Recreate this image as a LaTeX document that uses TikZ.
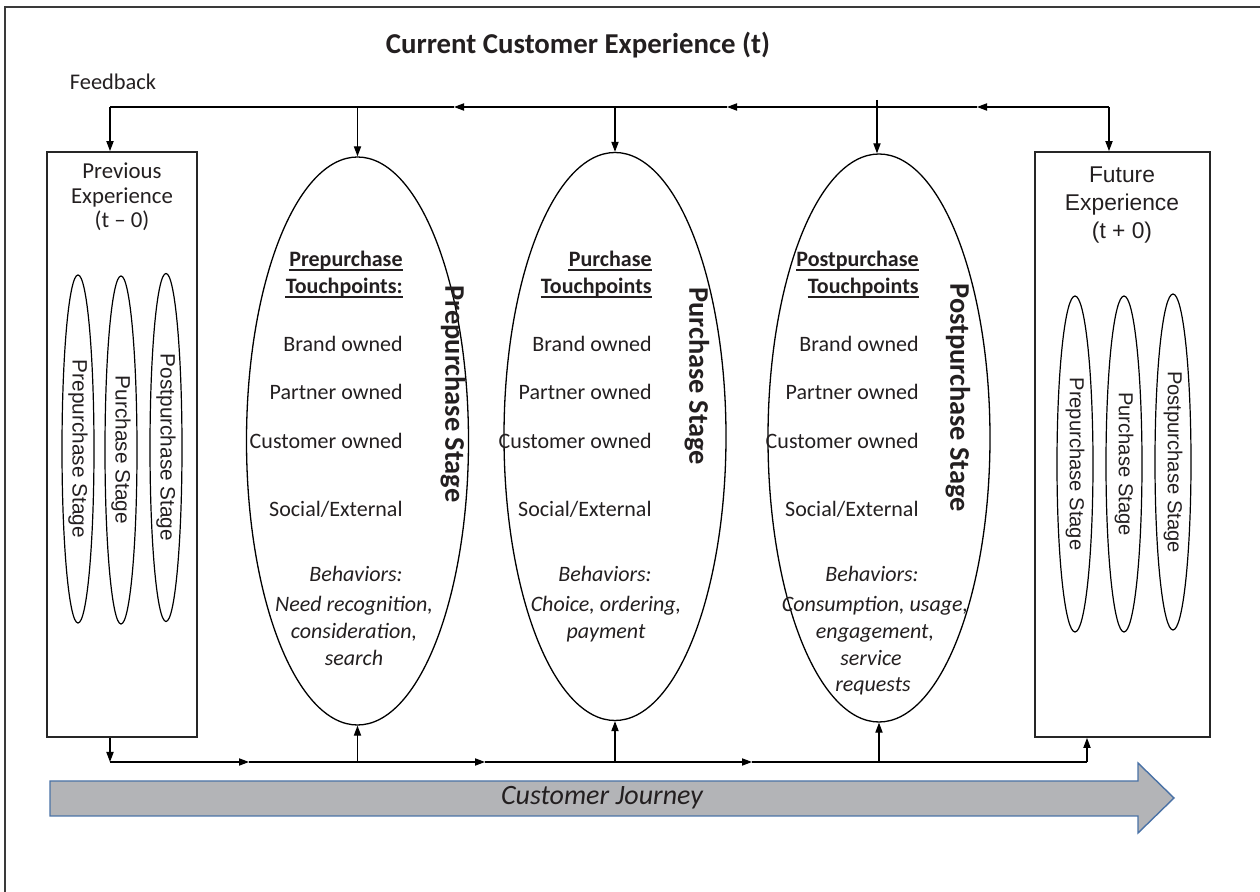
\documentclass[tikz,border=0pt]{standalone}
\usepackage{fontspec}
\setmainfont{Carlito}
\newfontfamily\arialf{Liberation Sans}
\usetikzlibrary{shapes.geometric,arrows.meta}
\definecolor{txt}{HTML}{231F20}
\definecolor{jfill}{HTML}{B3B4B7}
\definecolor{jdraw}{HTML}{4A72A6}
\definecolor{frame}{HTML}{3A3A3A}
\begin{document}
\begin{tikzpicture}[x=0.5pt,y=-0.5pt,
  every node/.style={inner sep=0pt, text=txt},
  line/.style={draw=black, line width=0.6pt},
  arr/.style={line, -{Triangle[length=5pt,width=3.6pt]}},
  bigell/.style={ellipse, draw=black, line width=0.65pt, minimum width=111pt, minimum height=284pt},
  smallL/.style={ellipse, draw=black, line width=0.6pt, minimum width=16pt, minimum height=174pt},
  smallR/.style={ellipse, draw=black, line width=0.6pt, minimum width=18pt, minimum height=168pt},
  expbox/.style={rectangle, draw=black!85, line width=0.9pt},
  tp/.style={font=\fontsize{11}{13}\selectfont, anchor=base east},
  tph/.style={font=\fontsize{11}{13}\selectfont\bfseries, anchor=base east},
  uline/.style={draw=txt, line width=0.8pt},
  beh/.style={font=\fontsize{11}{13}\selectfont\itshape, anchor=base},
  stagelbl/.style={font=\fontsize{14.2}{16}\selectfont\bfseries, rotate=-90, anchor=west},
  smlbl/.style={font=\arialf\fontsize{10.4}{12}\selectfont, rotate=-90}
]
\useasboundingbox (0,0) rectangle (1260,892);
% outer frame
\draw[draw=frame, line width=1pt] (1275,7) -- (5,7) -- (5,900);

% title and feedback
\node[font=\fontsize{14.4}{17}\selectfont\bfseries] (title) at (578,45) {Current Customer Experience (t)};
\node[font=\fontsize{11.2}{13}\selectfont] (fbtext) at (113,82) {Feedback};

% experience boxes
\node[expbox, minimum width=75pt, minimum height=292.5pt] (prev) at (122,444.5) {};
\node[expbox, minimum width=87.5pt, minimum height=292.5pt] (fut) at (1122.5,444.5) {};
\node[font=\fontsize{11.4}{12.3}\selectfont, align=center] (prevtxt) at (122,197) {Previous\\Experience\\(t -- 0)};
\node[font=\arialf\fontsize{11.4}{14}\selectfont, align=center] (futtxt) at (1122,205) {Future\\Experience\\(t + 0)};

% small ellipses in previous box
\node[smallL] (pl1) at (78,449) {};
\node[smallL] (pl2) at (121,450) {};
\node[smallL] (pl3) at (166,447.5) {};
\node[smlbl] (pt1) at (pl1.center) {Prepurchase Stage};
\node[smlbl] (pt2) at (pl2.center) {Purchase Stage};
\node[smlbl] (pt3) at (pl3.center) {Postpurchase Stage};
% small ellipses in future box
\node[smallR] (fl1) at (1075,464) {};
\node[smallR] (fl2) at (1124,464) {};
\node[smallR] (fl3) at (1173,462) {};
\node[smlbl, font=\arialf\fontsize{10.1}{12}\selectfont] (ft1) at (fl1.center) {Prepurchase Stage};
\node[smlbl, font=\arialf\fontsize{10.1}{12}\selectfont] (ft2) at (fl2.center) {Purchase Stage};
\node[smlbl, font=\arialf\fontsize{10.1}{12}\selectfont] (ft3) at (fl3.center) {Postpurchase Stage};

% stage ellipses
\node[bigell] (e1) at (357.5,441) {};
\node[bigell] (e2) at (615,436.5) {};
\node[bigell] (e3) at (879,438) {};

% touchpoint texts
\foreach \e/\rx/\hd in {1/403/Prepurchase, 2/652/Purchase, 3/919/Postpurchase} {
  \node[tph] (h\e) at (\rx,267) {\hd};
  \draw[uline] ([yshift=-1.6pt]h\e.base west) -- ([yshift=-1.6pt]h\e.base east);
  \node[tp] (b\e) at (\rx,352) {Brand owned};
  \node[tp] (p\e) at (\rx,400) {Partner owned};
  \node[tp] (c\e) at (\rx,449) {Customer owned};
  \node[tp] (s\e) at (\rx,517) {Social/External};
  \node[beh, anchor=base east] (bh\e) at (\rx,582) {Behaviors:};
}
\node[tph] (t1) at (403,294) {Touchpoints:};
\node[tph] (t2) at (652,294) {Touchpoints};
\node[tph] (t3) at (919,294) {Touchpoints};
\foreach \t in {t1,t2,t3}
  \draw[uline] ([yshift=-1.6pt]\t.base west) -- ([yshift=-1.6pt]\t.base east);

\node[beh] (n1a) at (354,612) {Need recognition,};
\node[beh] (n1b) at (354,639) {consideration,};
\node[beh] (n1c) at (354,666) {search};
\node[beh] (n2a) at (606,612) {Choice, ordering,};
\node[beh] (n2b) at (606,639) {payment};
\node[beh] (n3a) at (875,612) {Consumption,\ usage,};
\node[beh] (n3b) at (875,639) {engagement,};
\node[beh] (n3c) at (871,666) {service};
\node[beh] (n3d) at (873,692) {requests};

% rotated stage labels
\node[stagelbl] (l1) at (453,285) {Prepurchase Stage};
\node[stagelbl] (l2) at (697,287) {Purchase Stage};
\node[stagelbl] (l3) at (958,283) {Postpurchase Stage};

% feedback line
\coordinate (fbL) at (110,107);
\coordinate (fbR) at (1109,107);
\coordinate (fa1) at (977,107);
\coordinate (fa2) at (727,107);
\coordinate (fa3) at (454,107);
\coordinate (fb3top) at (877,100);
\draw[arr] (fbR) -- (fa1);
\draw[arr] (fa1) -- (fa2);
\draw[arr] (fa2) -- (fa3);
\draw[line] (fa3) -- (fbL);
\draw[arr] (fbL) -- (fbL |- prev.north);
\draw[arr] (fbR) -- (fbR |- fut.north);
\draw[arr] (e1.north |- fbL) -- (e1.north);
\draw[arr] (e2.north |- fbL) -- (e2.north);
\draw[arr] (fb3top) -- (fb3top |- e3.north);

% journey line
\coordinate (bL) at (110,762);
\coordinate (bR) at (1087,762);
\coordinate (ba1) at (249,762);
\coordinate (ba2) at (485,762);
\coordinate (ba3) at (752,762);
\draw[arr] (bL |- prev.south) -- (bL);
\draw[arr] (bL) -- (ba1);
\draw[arr] (ba1) -- (ba2);
\draw[arr] (ba2) -- (ba3);
\draw[line] (ba3) -- (bR);
\draw[arr] (bR) -- (bR |- fut.south);
\draw[arr] (e1.south |- bL) -- (e1.south);
\draw[arr] (e2.south |- bL) -- (e2.south);
\draw[arr] (e3.south |- bL) -- (e3.south);

% customer journey arrow
\draw[fill=jfill, draw=jdraw, line width=0.7pt] (50,781) -- (1138,781) -- (1138,763) -- (1174,798) -- (1138,833) -- (1138,816) -- (50,816) -- cycle;
\node[font=\fontsize{14}{16}\selectfont\itshape] (cj) at (602,798) {Customer Journey};
\end{tikzpicture}
\end{document}
